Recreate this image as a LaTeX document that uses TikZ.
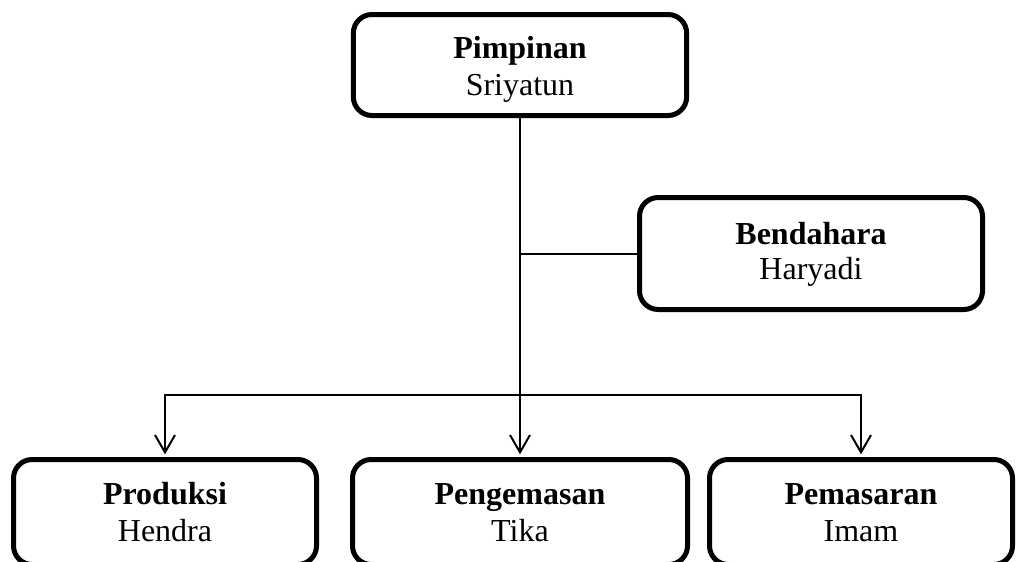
\documentclass[tikz,border=0pt]{standalone}
\usepackage{fontspec}
\setmainfont{Liberation Serif}
\usetikzlibrary{arrows.meta}
\begin{document}
\begin{tikzpicture}[x=0.75pt,y=-0.75pt,
  unit/.style={draw=black, fill=white, line width=3.75pt, rounded corners=14pt,
    inner sep=0pt},
  role/.style={anchor=base, inner sep=0pt, font=\fontsize{24}{28}\selectfont\bfseries},
  person/.style={anchor=base, inner sep=0pt, font=\fontsize{24}{28}\selectfont},
  link/.style={line width=1.5pt},
  down/.style={link, shorten >=2pt,
    -{Straight Barb[length=13pt,width=15pt,line width=1.5pt]}}]
\clip (0,0) rectangle (1017,561);

% boxes of the organisation chart
\node[unit, minimum width=250pt, minimum height=75.75pt] (pim) at (520,65) {};
\node[unit, minimum width=257.25pt, minimum height=84pt] (bend) at (811,253.5) {};
\node[unit, minimum width=227.25pt, minimum height=78.75pt] (prod) at (165,512) {};
\node[unit, minimum width=251.25pt, minimum height=78.75pt] (peng) at (520,512) {};
\node[unit, minimum width=227.25pt, minimum height=78.75pt] (pem) at (861,512) {};

% role and name in each box
\node[role]   (pimRole)    at (520,58)  {Pimpinan};
\node[person] (pimName)    at (520,95)  {Sriyatun};
\node[role]   (bendRole)   at (811,244) {Bendahara};
\node[person] (bendName)   at (811,279) {Haryadi};
\node[role]   (prodRole)   at (165,504) {Produksi};
\node[person] (prodName)   at (165,541) {Hendra};
\node[role]   (pengRole)   at (520,504) {Pengemasan};
\node[person] (pengName)   at (520,541) {Tika};
\node[role]   (pemRole)    at (861,504) {Pemasaran};
\node[person] (pemName)    at (861,541) {Imam};

% connectors
\coordinate (bar) at (520,395);
\draw[down] (pim.south) -- (peng.north);
\draw[link] (bend.west) -- (bend.west -| pim.south);
\draw[down] (bar) -| (prod.north);
\draw[down] (bar) -| (pem.north);
\end{tikzpicture}
\end{document}
